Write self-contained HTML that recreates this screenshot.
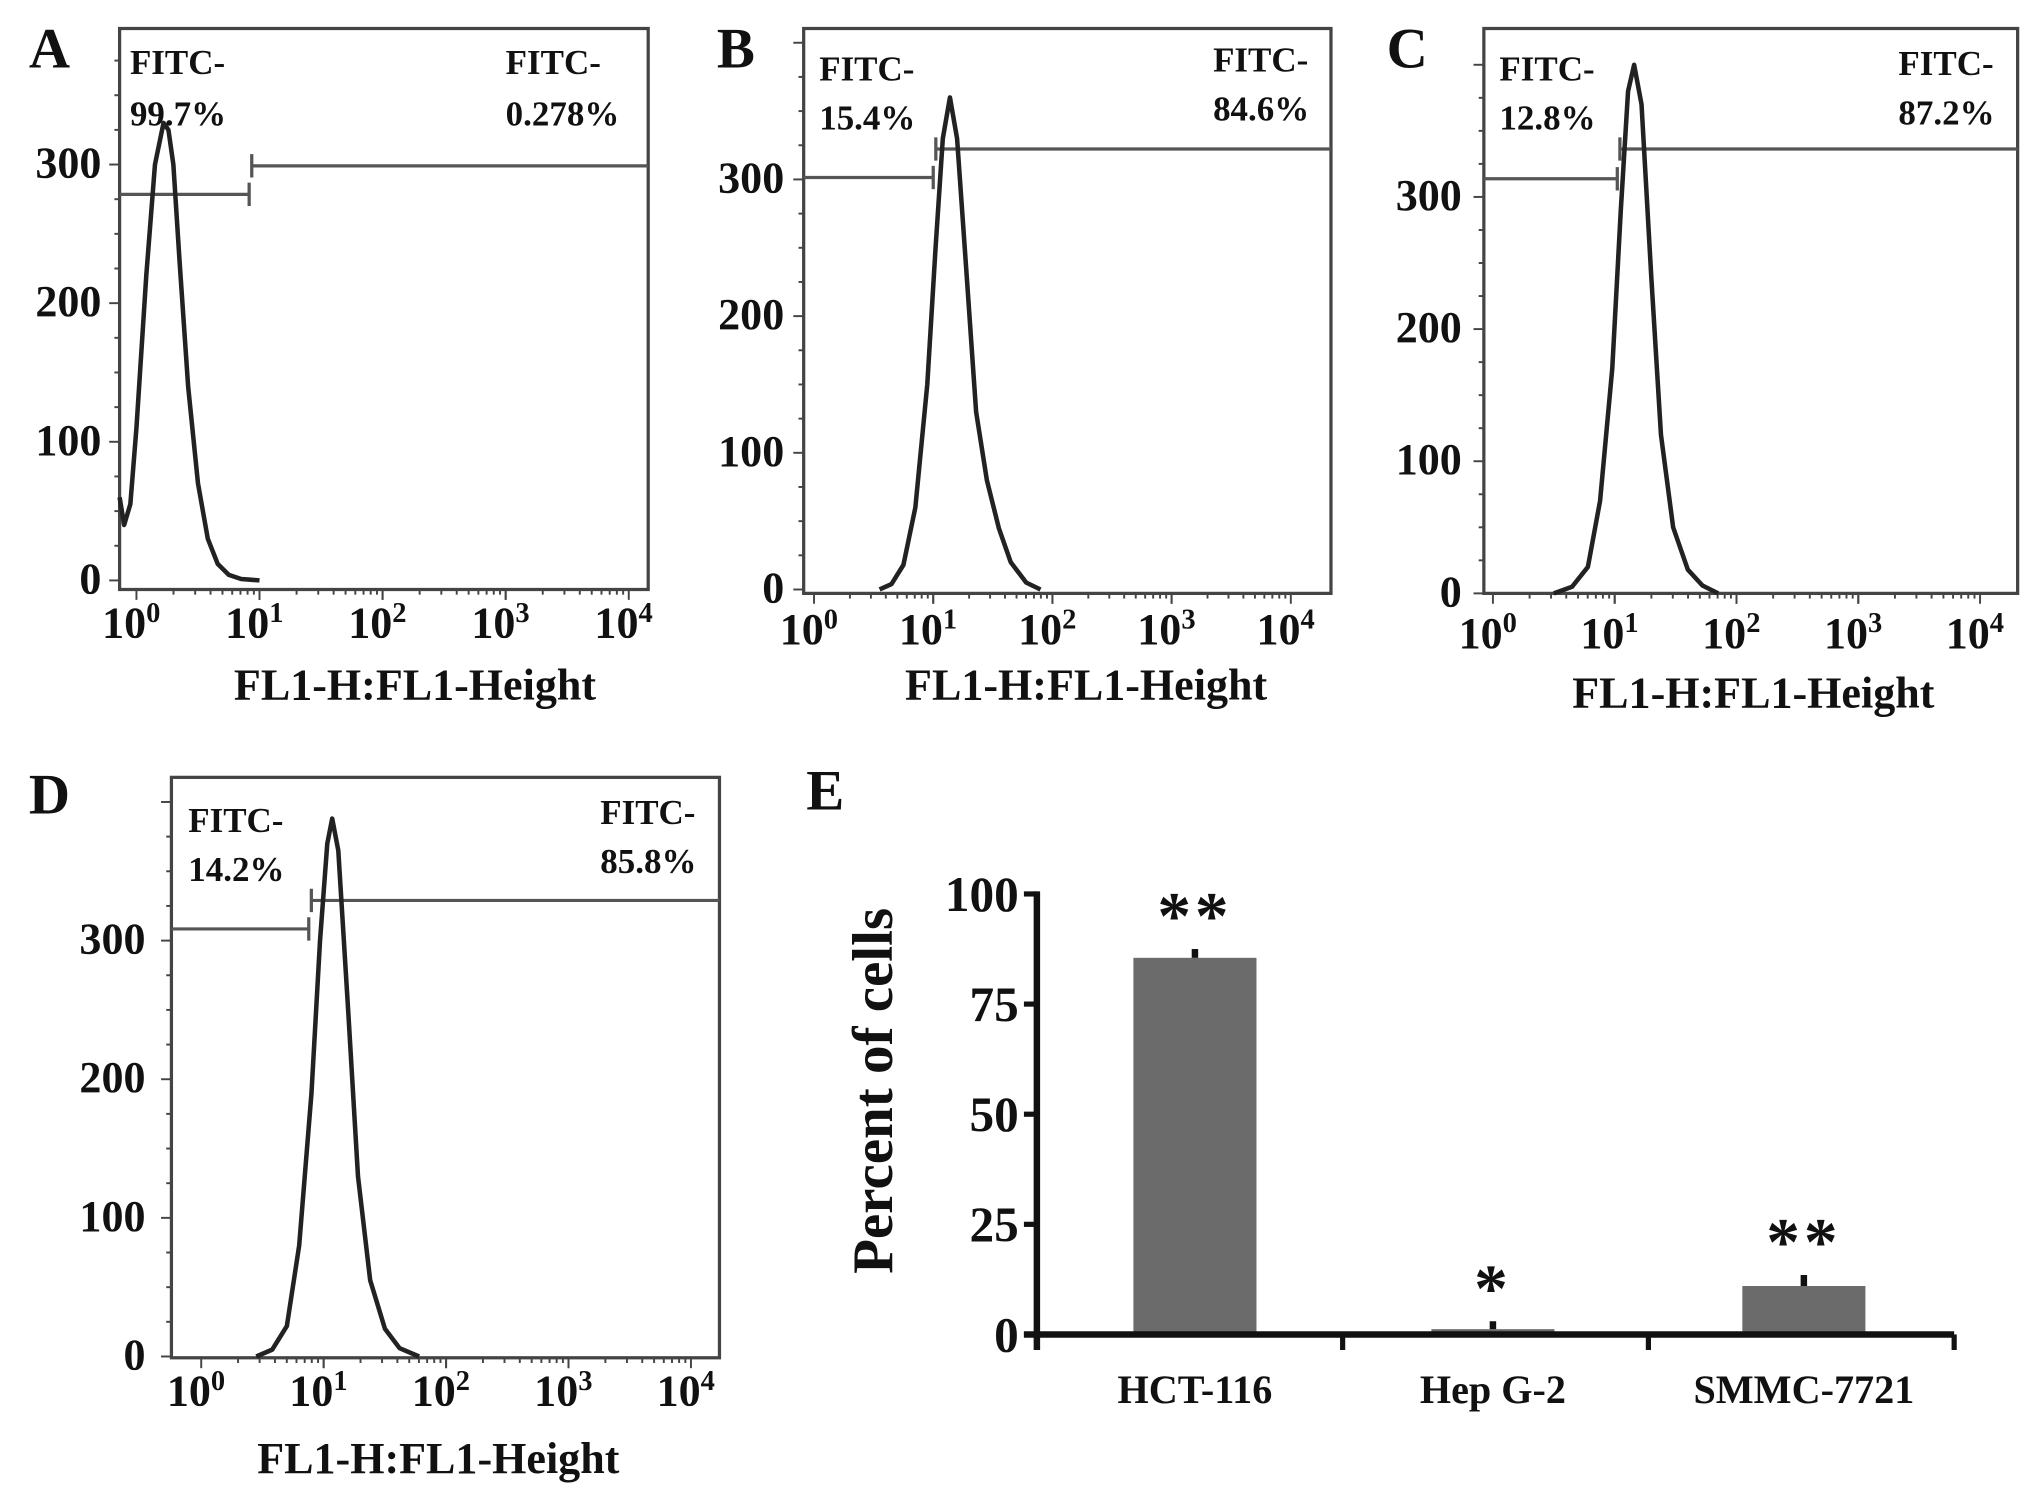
<!DOCTYPE html>
<html><head><meta charset="utf-8"><style>
html,body{margin:0;padding:0;background:#fff;}
svg{display:block;}
text{font-family:"Liberation Serif",serif;font-weight:bold;fill:#111;}
</style></head><body>
<svg id="fig" width="2031" height="1499" viewBox="0 0 1567 1157" xmlns="http://www.w3.org/2000/svg"></svg>
<script>
// ---- Histogram data (log10 fluorescence, event counts) ----
const histA_logx = [-0.14,-0.1,-0.05,0,0.08,0.15,0.22,0.26,0.3,0.35,0.42,0.5,0.58,0.66,0.75,0.85,1.0];
const histA_count = [60,40,55,110,220,300,330,325,300,230,140,70,30,12,4,1,0];
const histB_logx = [0.55,0.65,0.75,0.85,0.95,1.02,1.08,1.14,1.2,1.28,1.36,1.45,1.55,1.65,1.78,1.9];
const histB_count = [0,4,18,60,150,250,330,360,330,230,130,80,45,20,5,0];
const histC_logx = [0.5,0.65,0.78,0.88,0.98,1.05,1.11,1.16,1.22,1.3,1.38,1.48,1.6,1.72,1.85];
const histC_count = [0,5,20,70,170,290,380,400,370,240,120,50,18,6,0];
const histD_logx = [0.45,0.58,0.7,0.8,0.9,0.97,1.03,1.07,1.12,1.2,1.28,1.38,1.5,1.62,1.78];
const histD_count = [0,5,22,80,190,300,370,388,365,250,130,55,20,6,0];
const yTicks = [0,100,200,300];
const xDecades = [0,1,2,3,4];
// ---- Bar chart data ----
const barCategories = ["HCT-116","Hep G-2","SMMC-7721"];
const barValues = [85.5,1.2,11];
const barErrors = [2,1.8,2.5];
const barStars = ["**","*","**"];
const barYTicks = [0,25,50,75,100];

const svg = document.getElementById('fig');
const NS = 'http://www.w3.org/2000/svg';
function mk(tag, attrs, parent){
  const e = document.createElementNS(NS, tag);
  for (const k in attrs) e.setAttribute(k, attrs[k]);
  (parent||svg).appendChild(e);
  return e;
}

const panels = [
  {id:'a', letter:'A', lx:22, ly:52, box:[92,22,500,455], y0:448, yPer:1.07, x0:105, dec:95,
   logx:histA_logx, cnt:histA_count, gateX:192, gL:150, gR:128,
   t1:[100,57,'FITC-'], t2:[100,97,'99.7%'], t3:[390,57,'FITC-'], t4:[390,97,'0.278%'],
   ylx:78, xlabY:492, titleX:320, titleY:540},
  {id:'b', letter:'B', lx:553, ly:52, box:[620,22,1027,458], y0:455, yPer:1.055, x0:628, dec:92,
   logx:histB_logx, cnt:histB_count, gateX:720, gL:137, gR:115,
   t1:[632,62,'FITC-'], t2:[632,100,'15.4%'], t3:[936,55,'FITC-'], t4:[936,93,'84.6%'],
   ylx:605, xlabY:497, titleX:838, titleY:540},
  {id:'c', letter:'C', lx:1070, ly:52, box:[1145,22,1557,458], y0:458, yPer:1.02, x0:1152, dec:94,
   logx:histC_logx, cnt:histC_count, gateX:1248, gL:138, gR:115,
   t1:[1157,62,'FITC-'], t2:[1157,100,'12.8%'], t3:[1465,58,'FITC-'], t4:[1465,96,'87.2%'],
   ylx:1128, xlabY:500, titleX:1353, titleY:546},
  {id:'d', letter:'D', lx:22, ly:628, box:[132,600,555,1048], y0:1047, yPer:1.07, x0:155, dec:94.5,
   logx:histD_logx, cnt:histD_count, gateX:238, gL:717, gR:695,
   t1:[145,642,'FITC-'], t2:[145,680,'14.2%'], t3:[463,636,'FITC-'], t4:[463,674,'85.8%'],
   ylx:112, xlabY:1085, titleX:338, titleY:1137}
];

panels.forEach(p=>{
  const g = mk('g',{});
  
  
  const [bx1,by1,bx2,by2]=p.box;
  const xs = v => p.x0 + v*p.dec;
  const ys = v => p.y0 - v*p.yPer;
  const L = mk('text',{x:p.lx,y:p.ly,'font-size':44},g); L.textContent=p.letter;
  
  
  const box = mk('rect',{x:bx1,y:by1,width:bx2-bx1,height:by2-by1,fill:'none',stroke:'#444','stroke-width':2.5},g);
  
  
  for(let v=0; ys(v)>by1+5; v+=25){
    mk('line',{x1:bx1-(v%100===0?8:4),x2:bx1,y1:ys(v),y2:ys(v),stroke:'#444','stroke-width':1.5},g);
  }
  yTicks.forEach(v=>{
    const t=mk('text',{x:p.ylx,y:ys(v)+10,'font-size':34,'text-anchor':'end'},g);
    t.textContent=v;
    
    
  });
  for(let d=0; d<4; d++){ for(let k=1;k<=10;k++){
    const xx=xs(d+Math.log10(k)); if(xx<bx1||xx>bx2) continue;
    mk('line',{x1:xx,x2:xx,y1:by2,y2:by2+(k===1||k===10?8:4),stroke:'#444','stroke-width':1.5},g);
  }}
  xDecades.forEach(d=>{
    const t=mk('text',{x:xs(d)-4,y:p.xlabY,'font-size':34,'text-anchor':'middle'},g);
    
    
    t.appendChild(document.createTextNode('10'));
    const s=mk('tspan',{dy:-12,'font-size':22},t); s.textContent=d;
  });
  const ti=mk('text',{x:p.titleX,y:p.titleY,'font-size':34,'text-anchor':'middle'},g);
  ti.textContent='FL1-H:FL1-Height';
  
  
  const gl=mk('path',{d:`M${bx1},${p.gL}H${p.gateX}M${p.gateX},${p.gL-9}V${p.gL+9}`,stroke:'#555','stroke-width':2.5,fill:'none'},g);
  
  
  const gr=mk('path',{d:`M${p.gateX+2},${p.gR}H${bx2}M${p.gateX+2},${p.gR-9}V${p.gR+9}`,stroke:'#555','stroke-width':2.5,fill:'none'},g);
  
  
  let d='';
  p.logx.forEach((lx,i)=>{
    const xx=Math.max(bx1,Math.min(bx2,xs(lx)));
    d+=(i?'L':'M')+xx.toFixed(1)+','+ys(p.cnt[i]).toFixed(1);
  });
  const c=mk('path',{d:d,fill:'none',stroke:'#222','stroke-width':3.5,'stroke-linejoin':'round'},g);
  
  
  [p.t1,p.t2,p.t3,p.t4].forEach((a,i)=>{
    const t=mk('text',{x:a[0],y:a[1],'font-size':27},g);
    t.textContent=a[2];
    
    
  });
});

// ---- Bar chart E ----
(function(){
  const g=mk('g',{});
  
  
  const ax=800, yb=1030, yt=690, xr=1508;
  const yS=v=> yb-(v/100)*(yb-yt);
  const L=mk('text',{x:622,y:625,'font-size':44},g); L.textContent='E';
  
  
  const catW=(xr-ax)/barCategories.length;
  const barW=95;
  const offs=[4,-2,2];
  barCategories.forEach((c,i)=>{
    const cx=ax+catW*(i+0.5)+offs[i];
    const b=mk('rect',{x:cx-barW/2,y:yS(barValues[i]),width:barW,height:yb-yS(barValues[i]),fill:'#6b6b6b'},g);
    
    
    const e=mk('line',{x1:cx,x2:cx,y1:yS(barValues[i]),y2:yS(barValues[i]+barErrors[i]),stroke:'#111','stroke-width':5},g);
    
    
    const s=mk('text',{x:cx,y:yS(barValues[i]+barErrors[i])-8,'font-size':52,'text-anchor':'middle','letter-spacing':'3'},g);
    s.textContent=barStars[i];
    
    
    const t=mk('text',{x:cx,y:1083,'font-size':31,'text-anchor':'middle'},g);
    t.textContent=c;
    
    
  });
  const ya=mk('line',{x1:ax,x2:ax,y1:yt-2,y2:yb+12,stroke:'#111','stroke-width':5},g);
  
  
  const xa=mk('line',{x1:ax-10,x2:xr,y1:yb,y2:yb,stroke:'#111','stroke-width':5},g);
  
  
  for(let i=1;i<=barCategories.length;i++){
    mk('line',{x1:ax+catW*i,x2:ax+catW*i,y1:yb,y2:yb+12,stroke:'#111','stroke-width':4},g);
  }
  barYTicks.forEach(v=>{
    mk('line',{x1:ax-10,x2:ax,y1:yS(v),y2:yS(v),stroke:'#111','stroke-width':4},g);
    const t=mk('text',{x:ax-14,y:yS(v)+13,'font-size':38,'text-anchor':'end'},g);
    t.textContent=v;
    
    
  });
  const yt2=mk('text',{x:0,y:0,'font-size':44,'text-anchor':'middle',transform:'translate(688,842) rotate(-90)'},g);
  yt2.textContent='Percent of cells';
  
  
})();
</script>
</body></html>
